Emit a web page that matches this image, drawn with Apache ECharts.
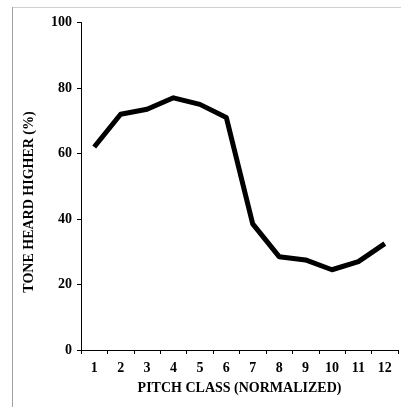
<!DOCTYPE html>
<html>
<head>
<meta charset="utf-8">
<script src="https://cdn.jsdelivr.net/npm/echarts@6/dist/echarts.min.js"></script>
<style>
html,body{margin:0;padding:0;background:#fff;}
#chart{width:401px;height:407px;}
</style>
</head>
<body>
<div id="chart"></div>
<script>
const categories = ['1','2','3','4','5','6','7','8','9','10','11','12'];
const toneHeardHigher = [62, 72, 73.5, 77, 75, 71, 38.5, 28.5, 27.5, 24.5, 27, 32.5];
const yTicks = [0, 20, 40, 60, 80, 100];
const xAxisTitle = 'PITCH CLASS (NORMALIZED)';
const yAxisTitle = 'TONE HEARD HIGHER (%)';

const font = '"Liberation Serif", "Times New Roman", serif';
const chart = echarts.init(document.getElementById('chart'), null, {renderer: 'canvas'});
chart.setOption({
  animation: false,
  backgroundColor: '#fff',
  grid: {left: 81, right: 3, top: 22.5, bottom: 57, containLabel: false},
  graphic: [
    {type: 'line', shape: {x1: 12, y1: 7.5, x2: 401, y2: 7.5}, style: {stroke: '#cfcfcf', lineWidth: 1}, silent: true},
    {type: 'line', shape: {x1: 12.5, y1: 7, x2: 12.5, y2: 407}, style: {stroke: '#a0a0a0', lineWidth: 1}, silent: true},
    {type: 'text', x: 29.5, y: 202, rotation: Math.PI / 2,
     style: {text: yAxisTitle, font: 'bold 14px ' + font, fill: '#000', align: 'center', verticalAlign: 'middle'}, silent: true}
  ],
  xAxis: {
    type: 'category',
    data: categories,
    boundaryGap: true,
    name: xAxisTitle,
    nameLocation: 'middle',
    nameGap: 31,
    nameTextStyle: {fontFamily: font, fontWeight: 'bold', fontSize: 14, color: '#000', verticalAlign: 'top'},
    axisLine: {lineStyle: {color: '#000', width: 1}},
    axisTick: {show: true, length: 4, lineStyle: {color: '#000'}, alignWithLabel: false},
    axisLabel: {fontFamily: font, fontWeight: 'bold', fontSize: 14, color: '#000', margin: 11, interval: 0},
    splitLine: {show: false}
  },
  yAxis: {
    type: 'value',
    min: yTicks[0],
    max: yTicks[yTicks.length - 1],
    interval: 20,
    axisLine: {show: true, lineStyle: {color: '#000', width: 1}},
    axisTick: {show: true, length: 4, lineStyle: {color: '#000'}},
    axisLabel: {fontFamily: font, fontWeight: 'bold', fontSize: 14, color: '#000', margin: 9},
    splitLine: {show: false}
  },
  series: [{
    type: 'line',
    data: toneHeardHigher,
    showSymbol: false,
    symbol: 'none',
    lineStyle: {color: '#000', width: 5, join: 'round'},
    itemStyle: {color: '#000'}
  }]
});
</script>
</body>
</html>
